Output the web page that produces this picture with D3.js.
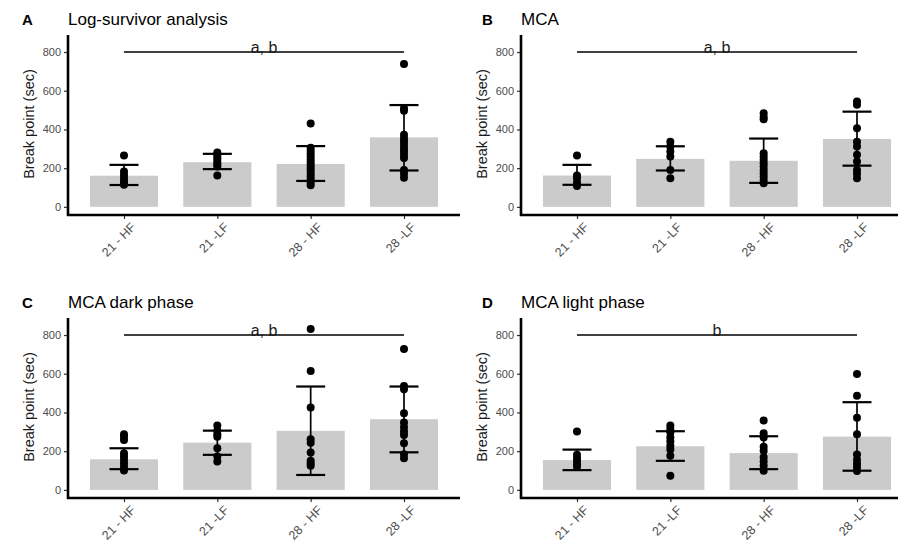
<!DOCTYPE html>
<html>
<head>
<meta charset="utf-8">
<script src="https://cdn.jsdelivr.net/npm/d3@7"></script>
<style>
  body { margin: 0; background: #fff; }
  text { font-family: "Liberation Sans", Arial, sans-serif; }
</style>
</head>
<body>
<div id="chart"></div>
<script>
// groups on the x axis
const groups = ["21 - HF", "21 -LF", "28 - HF", "28 -LF"];

const panelLetters = ["A", "B", "C", "D"];
const panelTitles = ["Log-survivor analysis", "MCA", "MCA dark phase", "MCA light phase"];
const sigLabels = ["a, b", "a, b", "a, b", "b"];
const sigValue = 800;

// bar heights (mean) and error bar ends, one array per panel
const meansA = [161, 231, 222, 359];
const lowA   = [113, 195, 134, 188];
const highA  = [217, 274, 314, 526];
const meansB = [162, 248, 238, 351];
const lowB   = [114, 188, 124, 213];
const highB  = [217, 313, 353, 492];
const meansC = [158, 244, 305, 365];
const lowC   = [107, 181, 77, 194];
const highC  = [215, 306, 534, 534];
const meansD = [154, 225, 190, 275];
const lowD   = [102, 150, 107, 99];
const highD  = [208, 303, 277, 453];

// individual animals
const pointsA = [
  [265, 183, 165, 148, 131, 114, 122],
  [281, 269, 257, 243, 229, 217, 209, 162],
  [431, 305, 290, 275, 260, 245, 230, 215, 200, 185, 170, 155, 140, 125, 112],
  [738, 510, 497, 372, 355, 338, 321, 303, 286, 269, 252, 191, 171, 150]
];
const pointsB = [
  [265, 162, 148, 126, 108],
  [337, 312, 286, 260, 191, 148],
  [484, 464, 453, 277, 260, 243, 225, 208, 191, 174, 157, 139, 122],
  [544, 527, 406, 337, 312, 269, 234, 191, 171, 148]
];
const pointsC = [
  [287, 275, 258, 189, 172, 155, 138, 120, 100],
  [332, 305, 287, 275, 215, 172, 146],
  [831, 614, 425, 262, 244, 193, 151, 138, 124],
  [728, 537, 520, 396, 348, 324, 301, 284, 241, 184, 164]
];
const pointsD = [
  [301, 181, 164, 150, 133, 119],
  [332, 315, 298, 272, 251, 228, 208, 176, 73],
  [358, 292, 271, 223, 202, 168, 147, 125, 99],
  [599, 486, 372, 287, 183, 156, 135, 118, 97]
];

const yTicks = [0, 200, 400, 600, 800];

const panelData = [
  { means: meansA, low: lowA, high: highA, points: pointsA },
  { means: meansB, low: lowB, high: highB, points: pointsB },
  { means: meansC, low: lowC, high: highC, points: pointsC },
  { means: meansD, low: lowD, high: highD, points: pointsD }
];

const width = 898, height = 542;
const svg = d3.select("#chart").append("svg")
    .attr("width", width)
    .attr("height", height);

// plot origin (y axis x, top of axis) for each panel
const origins = [[68, 35], [521, 35], [68, 318], [521, 318]];
const plotW = 392, plotH = 180;

panelData.forEach(function (p, i) {
    const ox = origins[i][0], oy = origins[i][1];
    const g = svg.append("g").attr("transform", "translate(" + ox + "," + oy + ")");

    const x = d3.scalePoint().domain(groups).range([0, plotW]).padding(0.6);
    const y = d3.scaleLinear().domain([-42, 888]).range([plotH, 0]);
    const barW = x.step() * 0.73;

    // bars
    g.selectAll(".bar")
        .data(groups)
        .enter().append("rect")
        .attr("x", d => x(d) - barW / 2)
        .attr("width", barW)
        .attr("y", (d, j) => y(p.means[j]))
        .attr("height", (d, j) => y(0) - y(p.means[j]))
        .attr("fill", "#cbcbcb");

    // points
    groups.forEach(function (grp, j) {
        g.selectAll(".pt" + j)
            .data(p.points[j])
            .enter().append("circle")
            .attr("cx", x(grp))
            .attr("cy", d => y(d))
            .attr("r", 4)
            .attr("fill", "#000");
    });

    // error bars
    const eb = g.selectAll(".err")
        .data(groups)
        .enter().append("g");
    eb.append("line")
        .attr("x1", d => x(d)).attr("x2", d => x(d))
        .attr("y1", (d, j) => y(p.low[j]))
        .attr("y2", (d, j) => y(p.high[j]))
        .attr("stroke", "#000").attr("stroke-width", 1.7);
    eb.append("line")
        .attr("x1", d => x(d) - 14.5).attr("x2", d => x(d) + 14.5)
        .attr("y1", (d, j) => y(p.low[j])).attr("y2", (d, j) => y(p.low[j]))
        .attr("stroke", "#000").attr("stroke-width", 2.2);
    eb.append("line")
        .attr("x1", d => x(d) - 14.5).attr("x2", d => x(d) + 14.5)
        .attr("y1", (d, j) => y(p.high[j])).attr("y2", (d, j) => y(p.high[j]))
        .attr("stroke", "#000").attr("stroke-width", 2.2);

    // significance bar
    const x0 = x(groups[0]), x3 = x(groups[3]);
    g.append("line")
        .attr("x1", x0).attr("x2", x3)
        .attr("y1", y(sigValue)).attr("y2", y(sigValue))
        .attr("stroke", "#000").attr("stroke-width", 1.5);
    g.append("text")
        .attr("x", (x0 + x3) / 2)
        .attr("y", y(sigValue) + 1)
        .attr("text-anchor", "middle")
        .attr("font-size", 16)
        .attr("fill", "#1a1a1a")
        .text(sigLabels[i]);

    // y axis
    const yAxis = g.append("g")
        .call(d3.axisLeft(y).tickValues(yTicks).tickSize(4).tickPadding(3));
    yAxis.select(".domain").remove();
    yAxis.selectAll(".tick line").attr("stroke", "#333").attr("stroke-width", 1.2);
    yAxis.selectAll(".tick text")
        .attr("fill", "#4d4d4d")
        .attr("font-size", 11)
        .style("font-family", "Liberation Sans, Arial, sans-serif");

    // x axis ticks and labels
    const xAxis = g.append("g")
        .attr("transform", "translate(0," + plotH + ")")
        .call(d3.axisBottom(x).tickSize(4).tickPadding(3));
    xAxis.select(".domain").remove();
    xAxis.selectAll(".tick line").attr("stroke", "#333").attr("stroke-width", 1.2);
    xAxis.selectAll(".tick text")
        .attr("fill", "#4d4d4d")
        .attr("font-size", 12.5)
        .style("font-family", "Liberation Sans, Arial, sans-serif")
        .attr("text-anchor", "end")
        .attr("dy", 0)
        .attr("transform", "translate(7,8) rotate(-45)");

    // axis lines
    g.append("line")
        .attr("x1", 0).attr("x2", 0).attr("y1", 0).attr("y2", plotH + 1)
        .attr("stroke", "#000").attr("stroke-width", 2.6);
    g.append("line")
        .attr("x1", -1).attr("x2", plotW).attr("y1", plotH).attr("y2", plotH)
        .attr("stroke", "#000").attr("stroke-width", 2.6);

    // y label
    g.append("text")
        .attr("transform", "translate(-34," + (plotH / 2 - 1) + ") rotate(-90)")
        .attr("text-anchor", "middle")
        .attr("font-size", 14.5)
        .attr("fill", "#1a1a1a")
        .text("Break point (sec)");

    // panel letter and title
    g.append("text")
        .attr("x", i % 2 === 0 ? -46 : -39)
        .attr("y", -10)
        .attr("font-size", 15)
        .attr("font-weight", "bold")
        .attr("fill", "#000")
        .text(panelLetters[i]);
    g.append("text")
        .attr("x", 0)
        .attr("y", -10)
        .attr("font-size", 17)
        .attr("fill", "#000")
        .text(panelTitles[i]);
});
</script>
</body>
</html>
